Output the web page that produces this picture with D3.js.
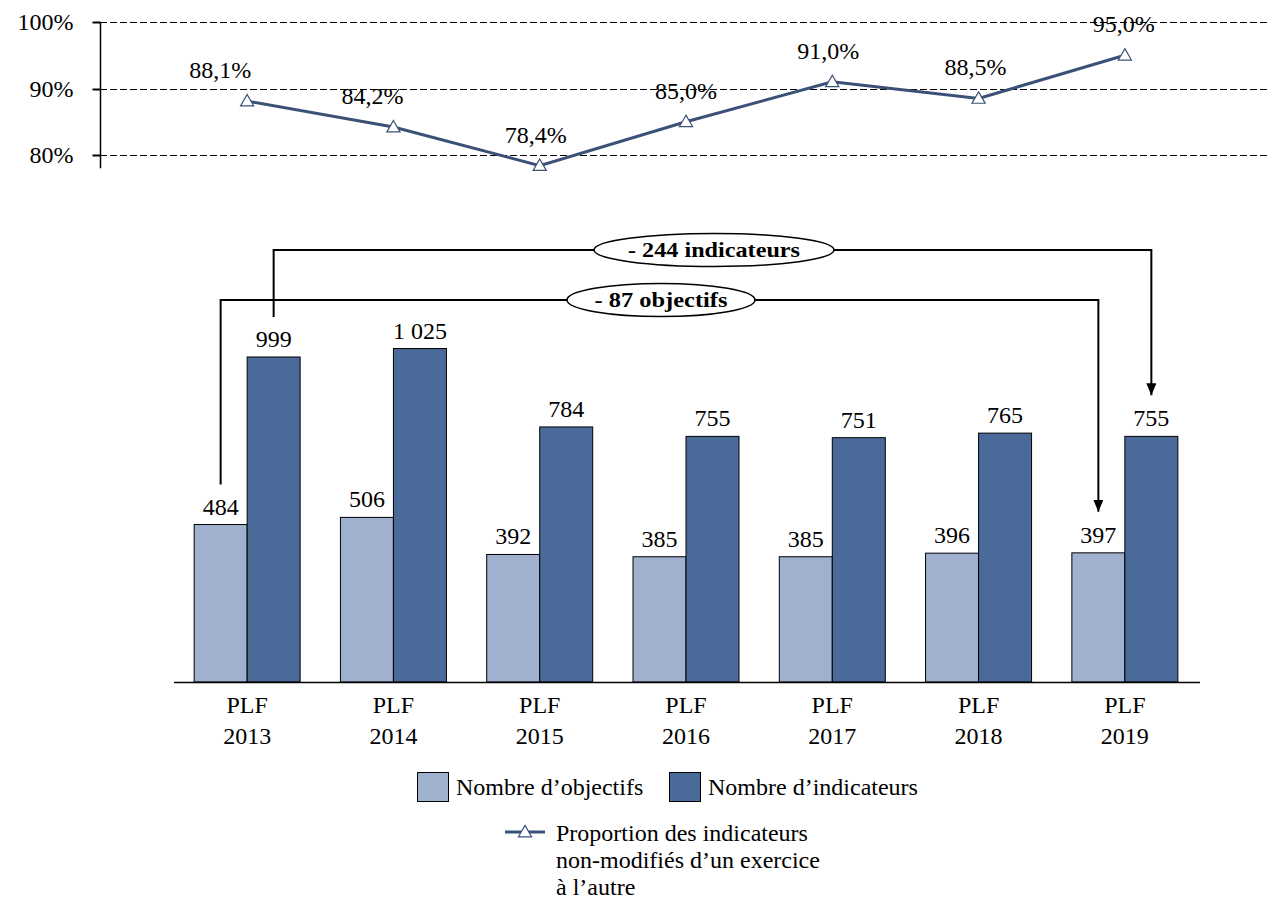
<!DOCTYPE html>
<html><head><meta charset="utf-8">
<script src="https://cdn.jsdelivr.net/npm/d3@7"></script>
<style>body{margin:0;background:#fff}svg text{font-family:"Liberation Serif","Times New Roman",serif;fill:#000}</style>
</head><body><svg id="c" width="1285" height="917"></svg>
<script>
const categories = ["PLF 2013","PLF 2014","PLF 2015","PLF 2016","PLF 2017","PLF 2018","PLF 2019"];
const objectifs = [484,506,392,385,385,396,397];
const indicateurs = [999,1025,784,755,751,765,755];
const proportion = [88.1,84.2,78.4,85.0,91.0,88.5,95.0];
const pctTicks = [80,90,100];
const seriesNames = ["Nombre d\u2019objectifs","Nombre d\u2019indicateurs"];
const lineName = ["Proportion des indicateurs","non-modifi\u00e9s d\u2019un exercice","\u00e0 l\u2019autre"];
const annotations = [{label:"- 244 indicateurs", series:1, from:0, to:6},{label:"- 87 objectifs", series:0, from:0, to:6}];

const colLight="#9fb1ce", colDark="#4a6a99", colLine="#3b5077";
const FS=24;
const svg=d3.select("#c");
const fr=v=>v.toFixed(1).replace(".",",")+"%";
const fn=v=>d3.format(",")(v).replace(/,/g,"\u00a0");

// scales
const x=d3.scaleBand().domain(categories).range([174,1198]);
const inner=d3.scaleBand().domain([0,1]).range([x.bandwidth()/2-53,x.bandwidth()/2+53]);
const yb=d3.scaleLinear().domain([0,1200]).range([682,291.6]);
const yp=d3.scaleLinear().domain([78,100]).range([168.3,22]);
const cx=c=>x(c)+x.bandwidth()/2;

// top chart grid
const g1=svg.append("g");
g1.selectAll("line.grid").data(pctTicks).join("line")
 .attr("x1",100).attr("x2",1270).attr("y1",d=>Math.round(yp(d))+0.5).attr("y2",d=>Math.round(yp(d))+0.5)
 .attr("stroke","#000").attr("stroke-width",1).attr("stroke-dasharray","7,3");
const ax=d3.axisLeft(yp).tickValues(pctTicks).tickSize(8).tickFormat(d=>d+"%");
const axg=g1.append("g").attr("transform","translate(100.5,0)").call(ax);
axg.select(".domain").attr("d",`M0,${yp(100)}V${yp(78)}`).attr("stroke","#000").attr("stroke-width",1.5);
axg.selectAll(".tick").attr("transform",d=>`translate(0,${Math.round(yp(d))+0.5})`);
axg.selectAll(".tick line").attr("stroke","#000").attr("stroke-width",2);
axg.selectAll(".tick text").attr("font-size",FS).attr("x",-27).attr("dy","0.33em");

// line
const line=d3.line().x((d,i)=>cx(categories[i])).y(d=>yp(d));
g1.append("path").datum(proportion).attr("d",line).attr("fill","none").attr("stroke",colLine).attr("stroke-width",3);
const tri=d3.symbol().type(d3.symbolTriangle).size(75);
g1.selectAll("path.m").data(proportion).join("path").attr("class","m")
 .attr("d",tri).attr("transform",(d,i)=>`translate(${cx(categories[i])},${yp(d)+1})`)
 .attr("fill","#fff").attr("stroke",colLine).attr("stroke-width",1.2);
const labDx=[-27,-21,-4,0,-4,-3,-1];
g1.selectAll("text.pl").data(proportion).join("text")
 .attr("x",(d,i)=>cx(categories[i])+labDx[i]).attr("y",d=>yp(d)-23)
 .attr("text-anchor","middle").attr("font-size",FS).text(fr);

// bars
const g2=svg.append("g");
const series=[objectifs,indicateurs];
const colors=[colLight,colDark];
series.forEach((s,k)=>{
  g2.selectAll("rect.s"+k).data(s).join("rect")
   .attr("x",(d,i)=>x(categories[i])+inner(k)).attr("width",inner.bandwidth())
   .attr("y",d=>yb(d)).attr("height",d=>yb(0)-yb(d))
   .attr("fill",colors[k]).attr("stroke","#000").attr("stroke-width",1);
  g2.selectAll("text.s"+k).data(s).join("text")
   .attr("x",(d,i)=>x(categories[i])+inner(k)+inner.bandwidth()/2).attr("y",d=>yb(d)-10)
   .attr("text-anchor","middle").attr("font-size",FS).text(fn);
});
g2.append("line").attr("x1",174).attr("x2",1200).attr("y1",yb(0)+0.5).attr("y2",yb(0)+0.5).attr("stroke","#000").attr("stroke-width",1.5);
categories.forEach(c=>{
  const parts=c.split(" ");
  const t=g2.append("text").attr("text-anchor","middle").attr("font-size",FS);
  parts.forEach((p,j)=>t.append("tspan").attr("x",cx(c)).attr("y",713+j*31).text(p));
});

// annotations
const defs=svg.append("defs");
defs.append("marker").attr("id","ah").attr("viewBox","0 0 12 10").attr("refX",12).attr("refY",5)
 .attr("markerWidth",12).attr("markerHeight",10).attr("markerUnits","userSpaceOnUse").attr("orient","auto")
 .append("path").attr("d","M0,0L12,5L0,10Z").attr("fill","#000");
const annY=[250,300], ellW=[240,188], txtW=[172,133];
annotations.forEach((a,i)=>{
  const s=series[a.series];
  const xa=x(categories[a.from])+inner(a.series)+inner.bandwidth()/2;
  const xb=x(categories[a.to])+inner(a.series)+inner.bandwidth()/2;
  const ya=yb(s[a.from])-40, ye=yb(s[a.to])-41;
  const yy=annY[i];
  svg.append("path").attr("d",`M${xa},${ya}V${yy}H${xb}V${ye}`).attr("fill","none")
   .attr("stroke","#000").attr("stroke-width",2).attr("marker-end","url(#ah)");
  const ex=a.series===1?714:661;
  svg.append("ellipse").attr("cx",ex).attr("cy",yy).attr("rx",ellW[i]/2).attr("ry",16.5)
   .attr("fill","#fff").attr("stroke","#000").attr("stroke-width",1.5);
  svg.append("text").attr("x",ex-txtW[i]/2).attr("y",yy+7).attr("font-size",21)
   .attr("textLength",txtW[i]).attr("lengthAdjust","spacingAndGlyphs")
   .attr("font-weight","bold").text(a.label);
});

// legend
const lg=svg.append("g");
[[417,456],[669,708]].forEach((p,k)=>{
  lg.append("rect").attr("x",p[0]+0.5).attr("y",772.5).attr("width",31).attr("height",29).attr("fill",colors[k]).attr("stroke","#000");
  lg.append("text").attr("x",p[1]).attr("y",795).attr("font-size",FS).text(seriesNames[k]);
});
lg.append("line").attr("x1",505).attr("x2",545).attr("y1",832).attr("y2",832).attr("stroke",colLine).attr("stroke-width",3);
lg.append("path").attr("d",tri).attr("transform","translate(525,833)").attr("fill","#fff").attr("stroke",colLine).attr("stroke-width",1.2);
lineName.forEach((t,j)=>lg.append("text").attr("x",556).attr("y",841+j*27).attr("font-size",FS).text(t));
</script></body></html>
